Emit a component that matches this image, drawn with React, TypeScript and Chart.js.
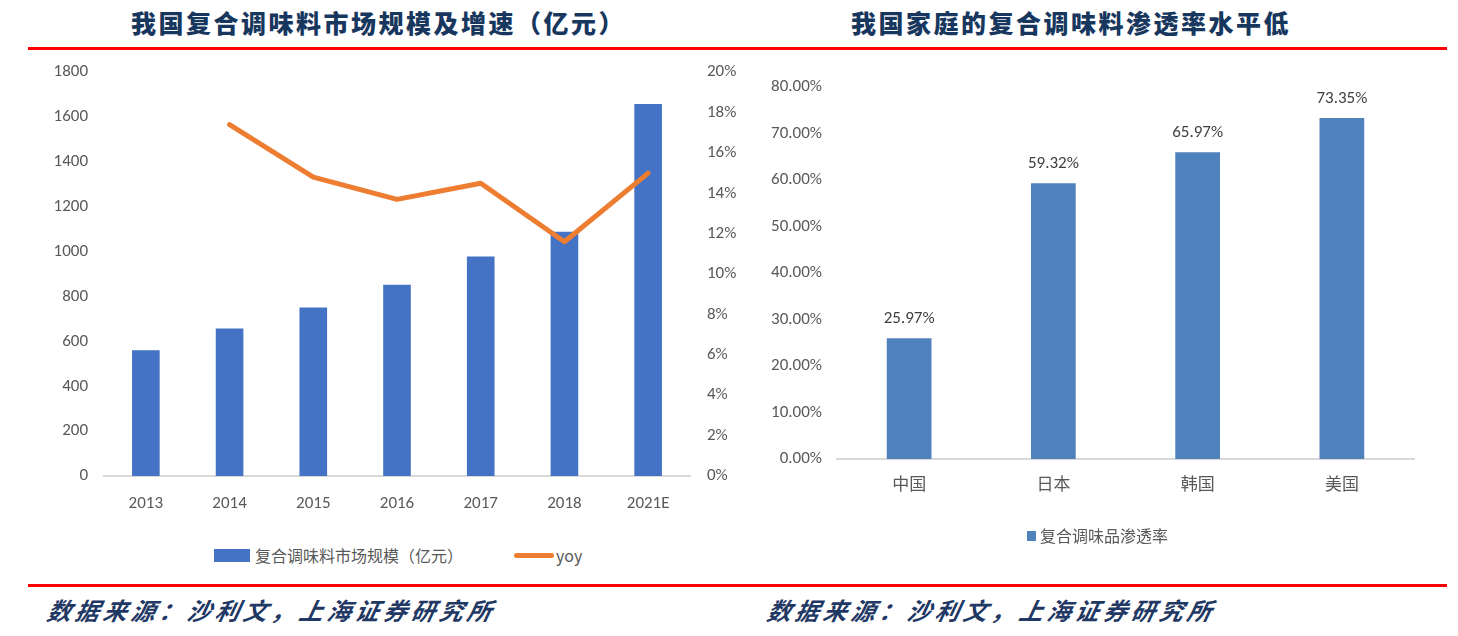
import React, { useEffect, useRef } from "react";
import { Chart, registerables } from "chart.js";

Chart.register(...registerables);

const years = ["2013", "2014", "2015", "2016", "2017", "2018", "2021E"];
const marketSize = [560, 658, 751, 853, 978, 1089, 1658];
const yoy = [null, 17.4, 14.8, 13.7, 14.5, 11.6, 15.0];
const leftTicksMax = 1800;
const rightTicksMax = 20;

const countries = ["中国", "日本", "韩国", "美国"];
const penetration = [25.97, 59.32, 65.97, 73.35];

const TICK_FONT = "Carlito, Lato, 'Noto Sans CJK SC', sans-serif";
const GRAY = "#595959";

function LeftChart() {
  const ref = useRef<HTMLCanvasElement>(null);
  useEffect(() => {
    const chart = new Chart(ref.current!, {
      type: "bar",
      data: {
        labels: years,
        datasets: [
          {
            type: "line",
            label: "yoy",
            data: yoy as any,
            yAxisID: "y1",
            borderColor: "#ED7D31",
            backgroundColor: "#ED7D31",
            borderWidth: 5,
            pointRadius: 0,
            tension: 0,
            borderCapStyle: "round",
            borderJoinStyle: "round",
            order: 0,
          } as any,
          {
            type: "bar",
            label: "复合调味料市场规模（亿元）",
            data: marketSize,
            yAxisID: "y",
            backgroundColor: "#4472C4",
            categoryPercentage: 1,
            barPercentage: 0.33,
            order: 1,
          },
        ],
      },
      options: {
        animation: false,
        responsive: true,
        maintainAspectRatio: false,
        layout: { autoPadding: false, padding: { top: 11, left: 0, right: 0, bottom: 0 } },
        plugins: { legend: { display: false }, tooltip: { enabled: false } },
        scales: {
          x: {
            grid: { display: false, drawTicks: false },
            border: { display: true, color: "#D9D9D9", width: 2 },
            ticks: { color: GRAY, font: { family: TICK_FONT, size: 17 }, padding: 18 },
            afterFit: (s: any) => { s.height = 54; },
          },
          y: {
            position: "left",
            min: 0,
            max: leftTicksMax,
            grid: { display: false, drawTicks: false },
            border: { display: false },
            ticks: {
              stepSize: 200,
              color: GRAY,
              font: { family: TICK_FONT, size: 17 },
              padding: 16,
              callback: (v: any) => String(v),
            },
            afterFit: (s: any) => { s.width = 104; },
          },
          y1: {
            position: "right",
            min: 0,
            max: rightTicksMax,
            grid: { display: false, drawTicks: false },
            border: { display: false },
            ticks: {
              stepSize: 2,
              color: GRAY,
              font: { family: TICK_FONT, size: 17 },
              padding: 17,
              callback: (v: any) => v + "%",
            },
            afterFit: (s: any) => { s.width = 50; },
          },
        },
      },
    });
    return () => chart.destroy();
  }, []);
  return <canvas ref={ref} />;
}

const dataLabelPlugin = {
  id: "dataLabels",
  afterDatasetsDraw(chart: any) {
    const ctx = chart.ctx;
    const meta = chart.getDatasetMeta(0);
    ctx.save();
    ctx.fillStyle = "#404040";
    ctx.font = `17px ${TICK_FONT}`;
    ctx.textAlign = "center";
    ctx.textBaseline = "bottom";
    meta.data.forEach((bar: any, i: number) => {
      const v = chart.data.datasets[0].data[i];
      ctx.fillText(v.toFixed(2) + "%", bar.x, bar.y - 11);
    });
    ctx.restore();
  },
};

function RightChart() {
  const ref = useRef<HTMLCanvasElement>(null);
  useEffect(() => {
    const chart = new Chart(ref.current!, {
      type: "bar",
      data: {
        labels: countries,
        datasets: [
          {
            label: "复合调味品渗透率",
            data: penetration,
            backgroundColor: "#4F81BD",
            categoryPercentage: 1,
            barPercentage: 0.31,
          },
        ],
      },
      options: {
        animation: false,
        responsive: true,
        maintainAspectRatio: false,
        layout: { autoPadding: false, padding: { top: 27, left: 0, right: 44, bottom: 0 } },
        plugins: { legend: { display: false }, tooltip: { enabled: false } },
        scales: {
          x: {
            grid: { display: false, drawTicks: false },
            border: { display: true, color: "#D9D9D9", width: 2 },
            ticks: { color: GRAY, font: { family: TICK_FONT, size: 17 }, padding: 17 },
            afterFit: (s: any) => { s.height = 71; },
          },
          y: {
            min: 0,
            max: 80,
            grid: { display: false, drawTicks: false },
            border: { display: false },
            ticks: {
              stepSize: 10,
              color: GRAY,
              font: { family: TICK_FONT, size: 17 },
              padding: 15,
              callback: (v: any) => Number(v).toFixed(2) + "%",
            },
            afterFit: (s: any) => { s.width = 97; },
          },
        },
      },
      plugins: [dataLabelPlugin],
    });
    return () => chart.destroy();
  }, []);
  return <canvas ref={ref} />;
}

const titleStyle: React.CSSProperties = {
  position: "absolute",
  top: 6,
  fontFamily: "'Noto Sans CJK SC', sans-serif",
  fontWeight: 900,
  fontSize: 25,
  letterSpacing: 2.5,
  color: "#17375E",
  whiteSpace: "nowrap",
  lineHeight: "32px",
};

const sourceStyle: React.CSSProperties = {
  position: "absolute",
  top: 594,
  fontFamily: "'Noto Sans CJK SC', sans-serif",
  fontWeight: 700,
  fontStyle: "italic",
  fontSize: 24,
  letterSpacing: 4,
  color: "#1F3864",
  whiteSpace: "nowrap",
  lineHeight: "32px",
  transform: "skewX(-12deg)",
};

const legendText: React.CSSProperties = {
  position: "absolute",
  fontFamily: "'Noto Sans CJK SC', sans-serif",
  fontSize: 16,
  color: GRAY,
  whiteSpace: "nowrap",
  lineHeight: "20px",
};

export default function App() {
  useEffect(() => {
    document.body.style.margin = "0";
  }, []);
  return (
    <div style={{ position: "relative", width: 1458, height: 636, background: "#fff", overflow: "hidden" }}>
      <div style={{ ...titleStyle, left: 131 }}>我国复合调味料市场规模及增速（亿元）</div>
      <div style={{ ...titleStyle, left: 851 }}>我国家庭的复合调味料渗透率水平低</div>
      <div style={{ position: "absolute", left: 28, top: 47, width: 1419, height: 3, background: "#FF0000" }} />
      <div style={{ position: "absolute", left: 28, top: 584, width: 1419, height: 3, background: "#FF0000" }} />

      <div style={{ position: "absolute", left: 0, top: 45, width: 740, height: 485 }}>
        <LeftChart />
      </div>
      <div style={{ position: "absolute", left: 740, top: 60, width: 718, height: 470 }}>
        <RightChart />
      </div>

      <div style={{ position: "absolute", left: 214, top: 549, width: 36, height: 13, background: "#4472C4" }} />
      <div style={{ ...legendText, left: 255, top: 545 }}>复合调味料市场规模（亿元）</div>
      <div style={{ position: "absolute", left: 514, top: 553, width: 40, height: 5, borderRadius: 3, background: "#ED7D31" }} />
      <div style={{ ...legendText, left: 556, top: 545 }}>yoy</div>

      <div style={{ position: "absolute", left: 1027, top: 531, width: 9, height: 10, background: "#4F81BD" }} />
      <div style={{ ...legendText, left: 1040, top: 525 }}>复合调味品渗透率</div>

      <div style={{ ...sourceStyle, left: 48 }}>数据来源：沙利文，上海证券研究所</div>
      <div style={{ ...sourceStyle, left: 768 }}>数据来源：沙利文，上海证券研究所</div>
    </div>
  );
}
